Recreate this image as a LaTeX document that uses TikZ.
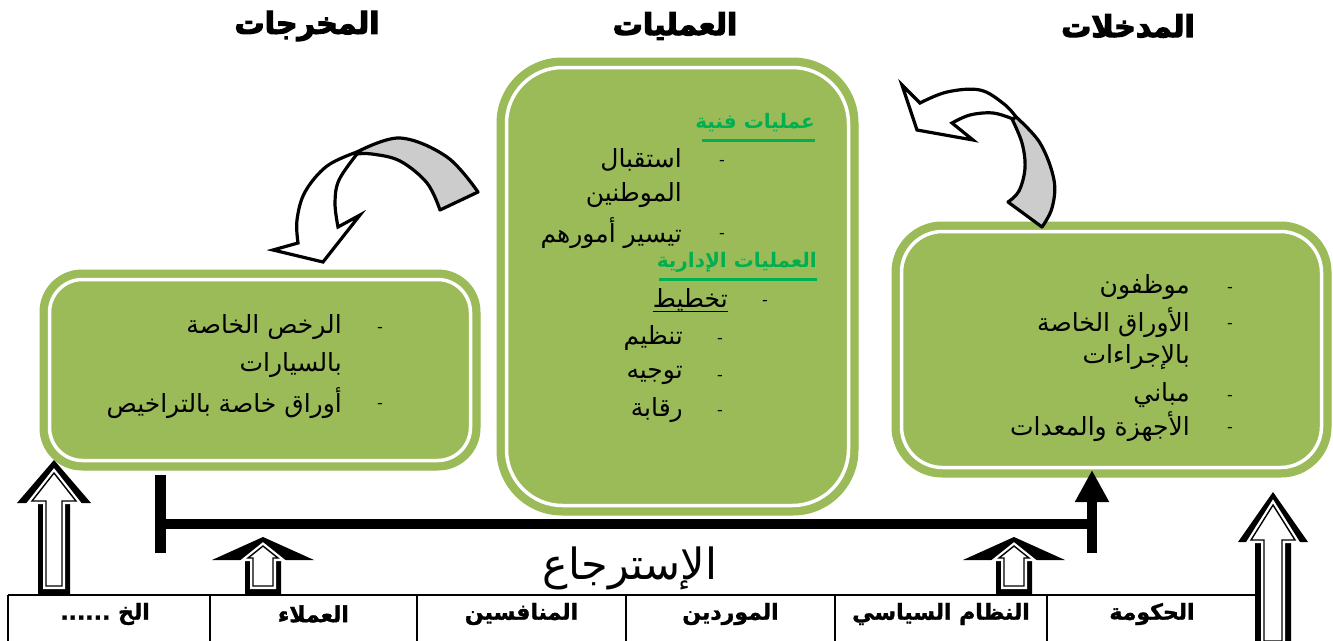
\documentclass[tikz,border=0pt]{standalone}
\usepackage{fontspec}
\usetikzlibrary{arrows.meta,calc}
\TeXXeTstate=1
\newfontfamily\arfont[Script=Arabic]{DejaVu Sans}
\newfontfamily\artitle[Script=Arabic,FakeBold=4]{DejaVu Sans Bold}
\newfontfamily\arcell[Script=Arabic,FakeBold=1.5]{DejaVu Sans Bold}
\newcommand\AR[1]{\beginR #1\endR}
\definecolor{boxgreen}{HTML}{9BBB59}
\definecolor{headgreen}{HTML}{00B050}
\definecolor{ribbongray}{HTML}{CCCCCC}
% hollow arrow: #1 cx, #2 tip, #3 head base, #4 head half width, #5 shaft half width, #6 bottom,
% #7 inner tip, #8 inner head half width, #9 inner shaft half width
\newcommand\hollowup[9]{%
  \fill[black] (#1,#2) -- (#1+#4,#3) -- (#1+#5,#3) -- (#1+#5,#6) -- (#1-#5,#6) -- (#1-#5,#3) -- (#1-#4,#3) -- cycle;
  \draw[innerwhite] (#1,#7) -- (#1+#8,#3-2) -- (#1+#9,#3-2) -- (#1+#9,#6-9) -- (#1-#9,#6-9) -- (#1-#9,#3-2) -- (#1-#8,#3-2) -- cycle;
  \draw[innerline] (#1,#7) -- (#1+#8,#3-2) -- (#1+#9,#3-2) -- (#1+#9,#6-9) -- (#1-#9,#6-9) -- (#1-#9,#3-2) -- (#1-#8,#3-2) -- cycle;
}
\begin{document}
\begin{tikzpicture}[x=1pt,y=-1pt,
  gbox/.style={fill=boxgreen, draw=boxgreen, line width=1pt, inner sep=0pt},
  gline/.style={draw=white, line width=3.5pt},
  titletext/.style={font=\artitle\fontsize{30}{34}\selectfont, inner sep=0pt},
  body/.style={font=\arfont\fontsize{25}{28}\selectfont, anchor=east, inner sep=0pt},
  greenhead/.style={font=\arfont\bfseries\fontsize{20}{24}\selectfont, text=headgreen, anchor=east, inner sep=0pt},
  dashmark/.style={font=\arfont\fontsize{16}{18}\selectfont, inner sep=0pt},
  celltext/.style={font=\arcell\fontsize{22}{26}\selectfont, inner sep=0pt},
  ribbonback/.style={fill=ribbongray, draw=black, line width=3.2pt, line join=round},
  ribbonfront/.style={fill=white, draw=black, line width=3.2pt, line join=miter},
  innerwhite/.style={fill=white, draw=white, line width=6pt, line join=miter},
  innerline/.style={draw=black, line width=1.4pt, line join=miter},
  feedback/.style={draw=black, line width=10pt},
  tableline/.style={draw=black, line width=2pt}
]
\useasboundingbox (0,0) rectangle (1333,640);
\fill[white] (0,0) rectangle (1333,640);

% titles
\node[titletext] (tOut) at (307,26) {\AR{المخرجات}};
\node[titletext] (tProc) at (675,26) {\AR{العمليات}};
\node[titletext] (tIn) at (1128,26) {\AR{المدخلات}};

% boxes
\node[gbox, minimum width=440pt, minimum height=200pt, rounded corners=42pt] (outbox) at (260,370) {};
\draw[gline, rounded corners=33pt] ($(outbox.south west)+(10,-10)$) rectangle ($(outbox.north east)+(-10,10)$);
\node[gbox, minimum width=361pt, minimum height=457pt, rounded corners=65pt] (procbox) at (677.5,286.5) {};
\draw[gline, rounded corners=56pt] ($(procbox.south west)+(10,-10)$) rectangle ($(procbox.north east)+(-10,10)$);
\node[gbox, minimum width=439pt, minimum height=255pt, rounded corners=50pt] (inbox) at (1111.5,349.5) {};
\draw[gline, rounded corners=41pt] ($(inbox.south west)+(10,-10)$) rectangle ($(inbox.north east)+(-10,10)$);

% outputs text
\node[body] (o1) at (342,327) {\AR{الرخص الخاصة}};
\node[body] (o2) at (342,365) {\AR{بالسيارات}};
\node[body] (o3) at (342,403) {\AR{أوراق خاصة بالتراخيص}};
\node[dashmark] (od1) at (380,330) {-};
\node[dashmark] (od3) at (380,406) {-};

% processes text
\node[greenhead] (h1) at (815,123) {\AR{عمليات فنية}};
\draw[headgreen, line width=3pt] (702,140) -- (815,140);
\node[body] (p1) at (682,160) {\AR{استقبال}};
\node[body] (p2) at (682,195) {\AR{الموطنين}};
\node[body] (p3) at (682,233) {\AR{تيسير أمورهم}};
\node[dashmark] (pd1) at (722,163) {-};
\node[dashmark] (pd3) at (722,236) {-};
\node[greenhead] (h2) at (817,262) {\AR{العمليات الإدارية}};
\draw[headgreen, line width=3pt] (659,279) -- (817,279);
\node[body] (p4) at (728,300) {\AR{تخطيط}};
\draw[black, line width=1pt] (p4.south west) -- (p4.south east);
\node[body] (p5) at (683,338) {\AR{تنظيم}};
\node[body] (p6) at (683,375) {\AR{توجيه}};
\node[body] (p7) at (683,410) {\AR{رقابة}};
\node[dashmark] (pd4) at (765,303) {-};
\node[dashmark] (pd5) at (720,341) {-};
\node[dashmark] (pd6) at (720,378) {-};
\node[dashmark] (pd7) at (720,413) {-};

% inputs text
\node[body] (i1) at (1190,287) {\AR{موظفون}};
\node[body] (i2) at (1190,323) {\AR{الأوراق الخاصة}};
\node[body] (i3) at (1190,357) {\AR{بالإجراءات}};
\node[body] (i4) at (1190,395) {\AR{مباني}};
\node[body] (i5) at (1190,427) {\AR{الأجهزة والمعدات}};
\node[dashmark] (id1) at (1230,290) {-};
\node[dashmark] (id2) at (1230,326) {-};
\node[dashmark] (id4) at (1230,398) {-};
\node[dashmark] (id5) at (1230,430) {-};

% left curved arrow (processes -> outputs)
\filldraw[ribbonback] plot[smooth, tension=0.6] coordinates {(357,152) (400,138) (447,157) (478,192)}
  -- plot[smooth, tension=0.6] coordinates {(440,210) (427,183) (400,161) (372,154) (357,154)} -- cycle;
\filldraw[ribbonfront] plot[smooth, tension=0.6] coordinates {(357,152) (327,166) (305,192) (297,220) (298,243)}
  -- (273,250) -- (323,262) -- (360,215) -- (338,227)
  -- plot[smooth, tension=0.6] coordinates {(338,227) (335,203) (339,180) (357,154)} -- cycle;

% right curved arrow (inputs -> processes)
\filldraw[ribbonback] plot[smooth, tension=0.6] coordinates {(1015,116) (1040,143) (1054,180) (1052,208) (1042,227)}
  -- plot[smooth, tension=0.6] coordinates {(1008,202) (1019,191) (1025,168) (1022,143) (1012,119)} -- cycle;
\filldraw[ribbonfront] (902,85) -- (920,103)
  -- plot[smooth, tension=0.6] coordinates {(920,103) (947,92) (980,90) (1004,104) (1016,117)}
  -- plot[smooth, tension=0.6] coordinates {(1013,119) (993,113) (970,115) (952,123)}
  -- (973,140) -- (917,130) -- cycle;

% feedback connector
\coordinate (fbTop) at (160,475);
\coordinate (fbBot) at (160,553);
\coordinate (fbL) at (155,524);
\coordinate (fbR) at (1092,524);
\coordinate (fbRB) at (1092,553);
\coordinate (fbTip) at (1092,470);
\draw[feedback, line width=11pt] (fbTop) -- (fbBot);
\draw[feedback] (fbL) -- (fbR);
\draw[feedback] (fbRB) -- (fbR);
\draw[feedback, -{Triangle[width=32pt,length=32pt]}] (fbR) -- (fbTip);
\node[font=\arfont\fontsize{43}{48}\selectfont, inner sep=0pt] (fbLabel) at (630,568) {\AR{الإسترجاع}};

% hollow up arrows
\hollowup{54}{460}{503}{37}{16}{595}{473}{22}{8}
\hollowup{263}{537}{560}{51}{18}{595}{546}{15}{10}
\hollowup{1014}{537}{560}{51}{18}{595}{546}{15}{10}
\hollowup{1273}{492}{542}{35}{18}{650}{505}{22}{9}

% table
\draw[tableline] (8,595) -- (1257,595);
\foreach \xx in {8,210,417,626,835,1047,1257} { \draw[tableline] (\xx,595) -- (\xx,645); }
\node[celltext] (c6) at (1152,614) {\AR{الحكومة}};
\node[celltext] (c5) at (941,614) {\AR{النظام السياسي}};
\node[celltext] (c4) at (730.5,614) {\AR{الموردين}};
\node[celltext] (c3) at (521.5,614) {\AR{المنافسين}};
\node[celltext] (c2) at (313.5,614) {\AR{العملاء}};
\node[celltext] (c1) at (105,614) {\AR{الخ ......}};
\end{tikzpicture}
\end{document}
